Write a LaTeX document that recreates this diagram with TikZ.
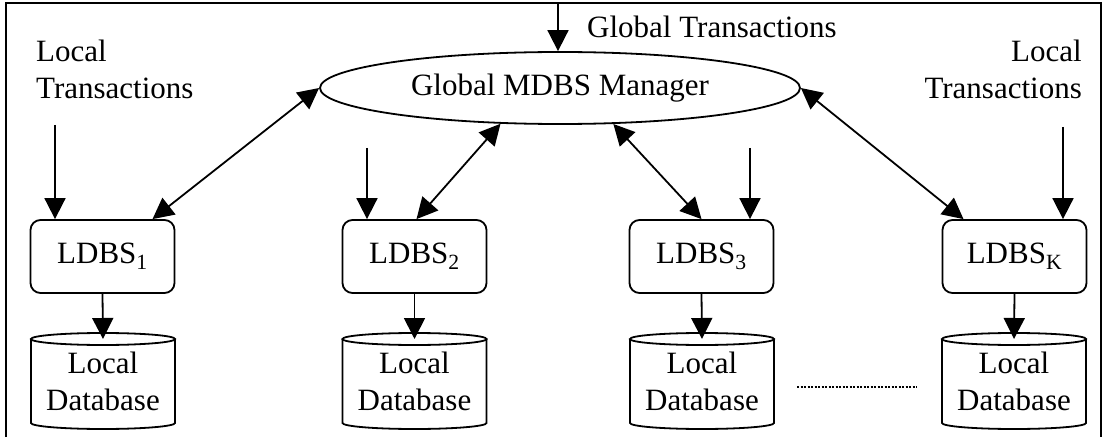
\documentclass[tikz,border=0pt]{standalone}
\usepackage{fontspec}
\setmainfont{Liberation Serif}
\usetikzlibrary{arrows.meta,shapes.geometric}
\begin{document}
\begin{tikzpicture}[x=1pt,y=1pt,
  every node/.style={font=\fontsize{31}{37}\selectfont, inner sep=0pt},
  line/.style={line width=1.8pt},
  tip/.style={},
  arr/.style={line width=1.8pt, -{Triangle[length=21pt,width=21pt]}},
  darr/.style={line width=1.8pt, {Triangle[length=21pt,width=21pt]}-{Triangle[length=21pt,width=21pt]}},
  ldbs/.style={draw, line width=1.8pt, rounded corners=10pt, minimum width=144pt, minimum height=73pt},
  db/.style={minimum width=144pt, minimum height=84pt, align=center, outer sep=0pt},
  ]
\useasboundingbox (0,0) rectangle (1105,437);
\draw[line] (6,0) -- (6,434) -- (1101,434) -- (1101,0);

% manager
\node[draw, ellipse, line width=1.8pt, minimum width=480pt, minimum height=72pt] (mgr) at (560,349) {Global MDBS Manager};

% labels
\node[anchor=base west] (gtl) at (587,399) {Global Transactions};
\node[anchor=base west, align=left] (ltl) at (36,338) {Local\\Transactions};
\node[anchor=base east, align=right] (ltr) at (1082,338) {Local\\Transactions};

% LDBS boxes
\node[ldbs] (b1) at (102.5,180.5) {LDBS\textsubscript{1}};
\node[ldbs] (b2) at (414.5,180.5) {LDBS\textsubscript{2}};
\node[ldbs] (b3) at (701.5,180.5) {LDBS\textsubscript{3}};
\node[ldbs] (bk) at (1014.5,180.5) {LDBS\textsubscript{K}};

% databases
\node[db] (d1) at (103,56) {Local\\Database};
\node[db] (d2) at (414.5,56) {Local\\Database};
\node[db] (d3) at (702,56) {Local\\Database};
\node[db] (dk) at (1014,56) {Local\\Database};
\foreach \n in {d1,d2,d3,dk} {
  \draw[line] (\n.north) ellipse [x radius=72pt, y radius=6pt];
  \draw[line] (\n.north west) -- (\n.south west)
     arc[start angle=180, end angle=360, x radius=72pt, y radius=6pt] -- (\n.north east);
}

% coordinates for free ends
\coordinate (gt) at (558,434);
\coordinate (lt1) at (55,312);
\coordinate (lt2) at (367,289);
\coordinate (lt3) at (750,289);
\coordinate (ltk) at (1063,310);
\coordinate (dotsA) at (797,50);
\coordinate (dotsB) at (917,50);

% arrows
\draw[arr] (gt) -- (gt |- mgr.north);
\draw[arr] (lt1) -- (b1.north -| lt1);
\draw[arr] (lt2) -- (b2.north -| lt2);
\draw[arr] (lt3) -- (b3.north -| lt3);
\draw[arr] (ltk) -- (bk.north -| ltk);

\draw[darr] (mgr.west) -- ([xshift=50pt]b1.north);
\draw[darr] (mgr.211.5) -- ([xshift=2pt]b2.north);
\draw[darr] (mgr.326.6) -- (b3.north);
\draw[darr] (mgr.east) -- ([xshift=-51pt]bk.north);

\foreach \b/\d in {b1/d1,b2/d2,b3/d3,bk/dk} {
  \draw[arr] (\b.south) -- (\d.north);
}

\draw[line width=2pt, dash pattern=on 2pt off 1.5pt] (dotsA) -- (dotsB);
\end{tikzpicture}
\end{document}
